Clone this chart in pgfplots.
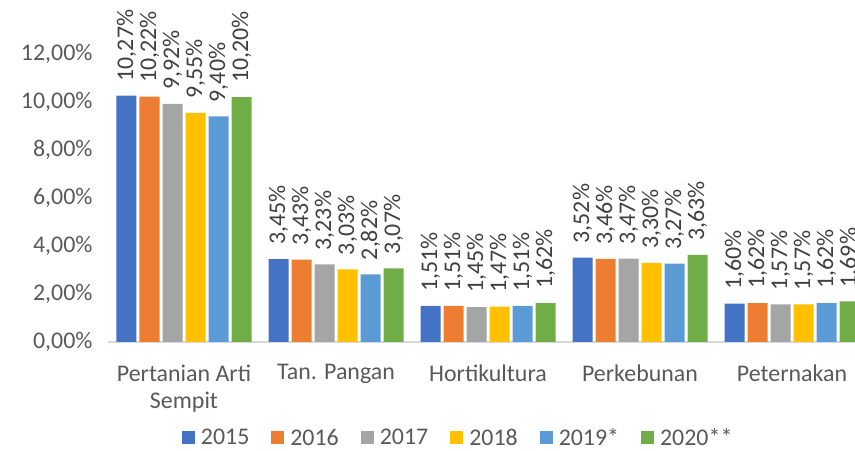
\documentclass[border=0pt]{standalone}
\usepackage{fontspec}
\setmainfont{Carlito}
\usepackage{pgfplots}
\pgfplotsset{compat=1.18}
\definecolor{c15}{HTML}{4472C4}
\definecolor{c16}{HTML}{ED7D31}
\definecolor{c17}{HTML}{A5A5A5}
\definecolor{c18}{HTML}{FFC000}
\definecolor{c19}{HTML}{5B9BD5}
\definecolor{c20}{HTML}{70AD47}
\definecolor{lbl}{HTML}{404040}
\definecolor{tck}{HTML}{595959}
\definecolor{axl}{HTML}{D9D9D9}
\begin{document}
\begin{tikzpicture}[x=1bp,y=1bp]
\begin{axis}[
  at={(0,0)}, anchor=south west,
  scale only axis, width=760bp, height=288bp,
  xmin=-0.5, xmax=4.5, ymin=0, ymax=12,
  clip=false,
  ybar=3bp, bar width=20bp,
  axis x line*=bottom, axis y line*=left,
  y axis line style={draw=none},
  x axis line style={draw=axl, line width=1.8bp},
  major tick length=0pt,
  xtick={0,1,2,3,4},
  xticklabels={{Pertanian Arti\\Sempit},{Tan. Pangan},{Hortikultura},{Perkebunan},{Peternakan}},
  xticklabel style={align=center, font=\fontsize{24}{28}\selectfont, text=tck, yshift=-19bp},
  ytick={0,2,4,6,8,10,12},
  yticklabel={\pgfmathprintnumber[fixed,fixed zerofill,precision=2,use comma,assume math mode=true]{\tick}\%},
  yticklabel style={font=\fontsize{24}{25}\selectfont, text=tck, xshift=-12bp},
  nodes near coords={\pgfmathprintnumber[fixed,fixed zerofill,precision=2,use comma,assume math mode=true]{\pgfplotspointmeta}\%},
  every node near coord/.append style={rotate=90, anchor=west, inner sep=0pt, xshift=14bp, font=\fontsize{24}{25}\selectfont, text=lbl},
  legend columns=6,
  legend style={draw=none, fill=none, inner sep=0pt, at={(0.097,-0.333)}, anchor=west,
    font=\fontsize{24}{25}\selectfont, text=tck,
    /tikz/every odd column/.append style={column sep=4bp},
    /tikz/every even column/.append style={column sep=20bp}},
  legend image code/.code={\fill[#1] (0bp,-6.5bp) rectangle (13bp,6.5bp);},
]
\addplot[fill=c15, draw=none] coordinates {(0,10.27) (1,3.45) (2,1.51) (3,3.52) (4,1.60)};
\addplot[fill=c16, draw=none] coordinates {(0,10.22) (1,3.43) (2,1.51) (3,3.46) (4,1.62)};
\addplot[fill=c17, draw=none] coordinates {(0,9.92) (1,3.23) (2,1.45) (3,3.47) (4,1.57)};
\addplot[fill=c18, draw=none] coordinates {(0,9.55) (1,3.03) (2,1.47) (3,3.30) (4,1.57)};
\addplot[fill=c19, draw=none] coordinates {(0,9.40) (1,2.82) (2,1.51) (3,3.27) (4,1.62)};
\addplot[fill=c20, draw=none] coordinates {(0,10.20) (1,3.07) (2,1.62) (3,3.63) (4,1.69)};
\legend{2015,2016,2017,2018,2019*,2020**}
\end{axis}
\pgfresetboundingbox
\useasboundingbox (-108,-109) rectangle (747,342);
\end{tikzpicture}
\end{document}
